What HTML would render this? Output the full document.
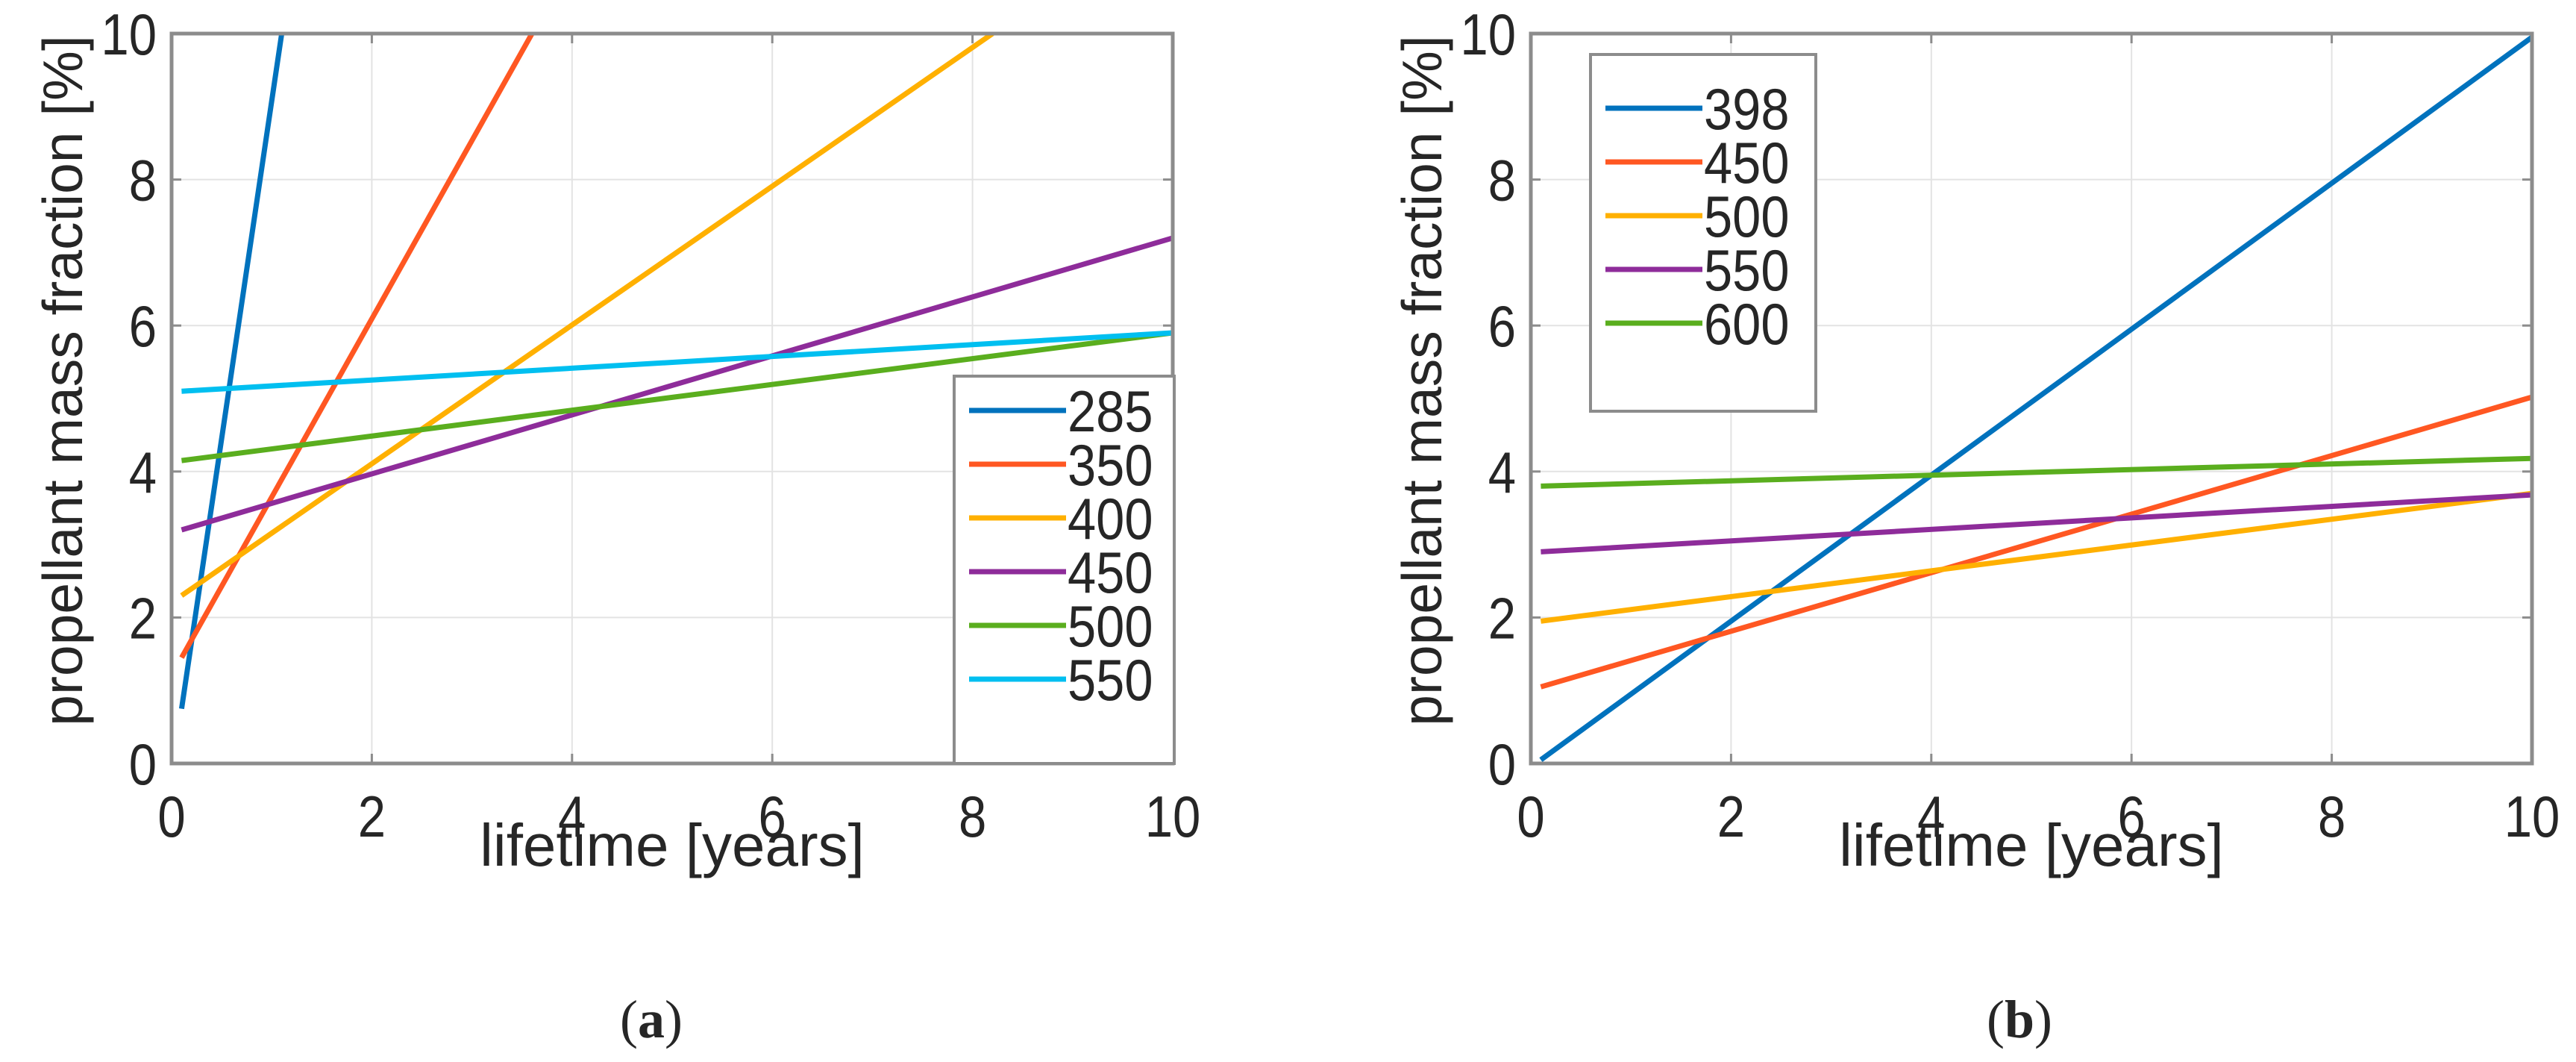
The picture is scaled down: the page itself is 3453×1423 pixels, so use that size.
<!DOCTYPE html>
<html><head><meta charset="utf-8"><style>
html,body{margin:0;padding:0;background:#fff}
svg{display:block}
text{font-family:"Liberation Sans",sans-serif;fill:#262626}
</style></head><body>
<svg id="fig" width="3453" height="1423" viewBox="0 0 3453 1423" xmlns="http://www.w3.org/2000/svg"></svg>
<script>
const xTicks=[0,2,4,6,8,10];
const yTicks=[0,2,4,6,8,10];
const seriesA=['285','350','400','450','500','550'];
const a285=[[0.1,0.75],[1.1,10]];
const a350=[[0.1,1.45],[3.6,10]];
const a400=[[0.1,2.3],[8.2,10]];
const a450=[[0.1,3.2],[10,7.2]];
const a500=[[0.1,4.15],[10,5.9]];
const a550=[[0.1,5.1],[10,5.9]];
const seriesB=['398','450','500','550','600'];
const b398=[[0.1,0.05],[10,9.95]];
const b450=[[0.1,1.05],[10,5.02]];
const b500=[[0.1,1.95],[10,3.7]];
const b550=[[0.1,2.9],[10,3.68]];
const b600=[[0.1,3.8],[10,4.18]];
const colA=['#0072BD','#FF5722','#FFB000','#8E2C9A','#5AAE1E','#00BFF0'];
const colB=['#0072BD','#FF5722','#FFB000','#8E2C9A','#5AAE1E'];
const NS='http://www.w3.org/2000/svg';
const svg=document.getElementById('fig');
function mk(tag,attrs,parent,txt){const e=document.createElementNS(NS,tag);for(const k in attrs)e.setAttribute(k,attrs[k]);if(txt!==undefined)e.textContent=txt;(parent||svg).appendChild(e);return e;}
function panel(id,L,R,T,B,names,data,cols,leg,caption,capX){
  const g=mk('g',{});
  
  
  const sx=v=>L+(v/10)*(R-L), sy=v=>B-(v/10)*(B-T);
  const clipId='clip'+id;
  const cp=mk('clipPath',{id:clipId},g);mk('rect',{x:L,y:T,width:R-L,height:B-T},cp);
  xTicks.forEach(t=>{
    const l=mk('line',{x1:sx(t),x2:sx(t),y1:T,y2:B,stroke:'#e3e3e3','stroke-width':2},g);
    
    
    mk('line',{x1:sx(t),x2:sx(t),y1:B,y2:B-13,stroke:'#8c8c8c','stroke-width':3},g);
    mk('line',{x1:sx(t),x2:sx(t),y1:T,y2:T+13,stroke:'#8c8c8c','stroke-width':3},g);
    const tx=mk('text',{x:0,y:0,'font-size':78,'text-anchor':'middle',transform:'translate('+sx(t)+','+(B+98)+') scale(0.86,1)'},g,String(t));
    
    
  });
  yTicks.forEach(t=>{
    const l=mk('line',{x1:L,x2:R,y1:sy(t),y2:sy(t),stroke:'#e3e3e3','stroke-width':2},g);
    
    
    mk('line',{x1:L,x2:L+13,y1:sy(t),y2:sy(t),stroke:'#8c8c8c','stroke-width':3},g);
    mk('line',{x1:R,x2:R-13,y1:sy(t),y2:sy(t),stroke:'#8c8c8c','stroke-width':3},g);
    const tx=mk('text',{x:0,y:0,'font-size':78,'text-anchor':'end',transform:'translate('+(L-20)+','+(sy(t)+28)+') scale(0.86,1)'},g,String(t));
    
    
  });
  data.forEach((d,i)=>{
    const l=mk('line',{x1:sx(d[0][0]),y1:sy(d[0][1]),x2:sx(d[1][0]),y2:sy(d[1][1]),stroke:cols[i],'stroke-width':7,'clip-path':'url(#'+clipId+')'},g);
    
    
  });
  const ax=mk('rect',{x:L,y:T,width:R-L,height:B-T,fill:'none',stroke:'#8c8c8c','stroke-width':5},g);
  
  
  const lg=mk('g',{},g);
  
  
  mk('rect',{x:leg.x,y:leg.y,width:leg.w,height:leg.h,fill:'#fff',stroke:'#8c8c8c','stroke-width':4},lg);
  names.forEach((n,i)=>{
    const cy=leg.y0+i*72;
    const e=mk('g',{},lg);
    
    
    mk('line',{x1:leg.x+20,x2:leg.x+150,y1:cy,y2:cy,stroke:cols[i],'stroke-width':7},e);
    mk('text',{x:0,y:0,'font-size':78,transform:'translate('+(leg.x+152)+','+(cy+28)+') scale(0.88,1)'},e,n);
  });
  const xl=mk('text',{x:(L+R)/2,y:1160,'font-size':80,'text-anchor':'middle'},g,'lifetime [years]');
  
  
  const yl=mk('text',{x:0,y:0,'font-size':75,'text-anchor':'middle',transform:'translate('+(L-120)+',510) rotate(-90)'},g,'propellant mass fraction [%]');
  
  
  const cap=mk('text',{x:capX,y:1390,'font-size':72,'text-anchor':'middle',style:'font-family:"Liberation Serif",serif'},g);
  
  
  mk('tspan',{},cap,'(');mk('tspan',{'font-weight':'bold'},cap,caption);mk('tspan',{},cap,')');
}
panel('a',230,1572,45,1023,seriesA,[a285,a350,a400,a450,a500,a550],colA,{x:1279,y:504,w:295,h:519,y0:550},'a',873);
panel('b',2052,3394,45,1023,seriesB,[b398,b450,b500,b550,b600],colB,{x:2132,y:73,w:302,h:478,y0:145},'b',2707);
</script>
</body></html>
